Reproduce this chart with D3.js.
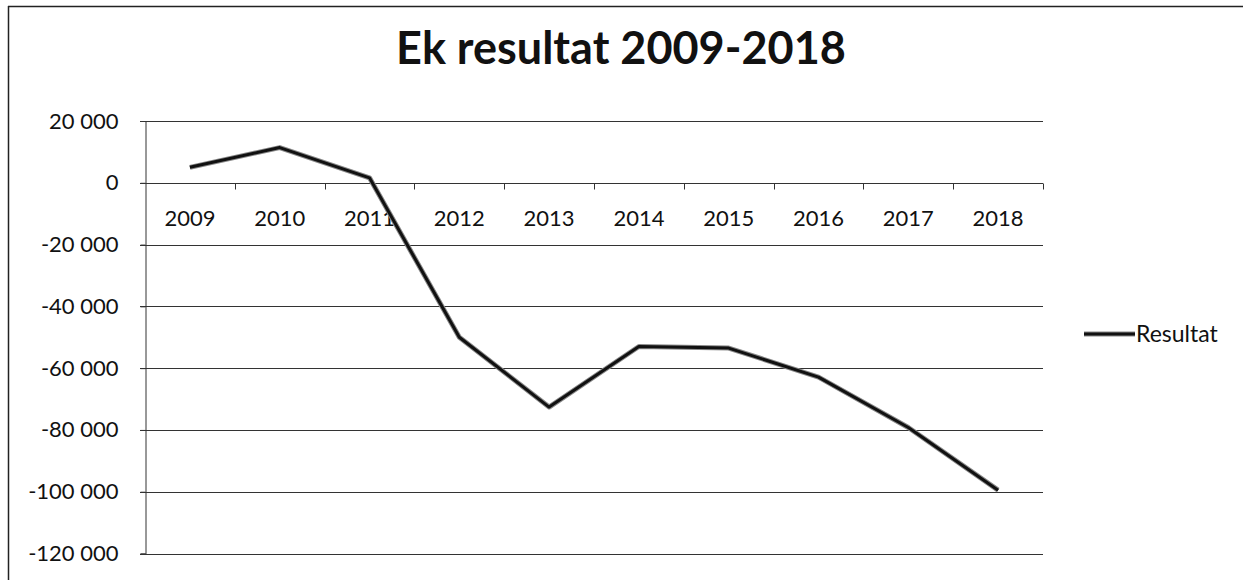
<!DOCTYPE html>
<html><head><meta charset="utf-8">
<script src="https://cdn.jsdelivr.net/npm/d3@7"></script>
<style>body{margin:0;background:#fff}svg{display:block}text{font-family:Lato,"Open Sans",sans-serif;fill:#111}</style>
</head><body><svg id="c" width="1243" height="580"></svg>
<script>
const years = ["2009","2010","2011","2012","2013","2014","2015","2016","2017","2018"];
const resultat = [5000, 11400, 1600, -50000, -72600, -53000, -53500, -62900, -79200, -99500];
const yTicks = [20000, 0, -20000, -40000, -60000, -80000, -100000, -120000];
const seriesName = "Resultat";
const title = "Ek resultat 2009-2018";

const svg = d3.select("#c");
const L = 145, R = 1043, T = 121, B = 553.5;
const x = d3.scaleBand().domain(years).range([L, R]).padding(0);
const y = d3.scaleLinear().domain([-120000, 20000]).range([B, T]);
const loc = d3.formatLocale({decimal: ",", thousands: " ", grouping: [3], currency: ["", ""], minus: "-"});
const fmt = loc.format(",d");

// outer border (top and left only visible)
svg.append("line").attr("x1", 8).attr("x2", 1243).attr("y1", 6.5).attr("y2", 6.5).attr("stroke", "#222").attr("stroke-width", 1.5);
svg.append("line").attr("x1", 8.5).attr("x2", 8.5).attr("y1", 6).attr("y2", 580).attr("stroke", "#222").attr("stroke-width", 1.5);

// title
svg.append("text").attr("x", 621).attr("y", 64).attr("text-anchor", "middle")
  .attr("font-size", 45).attr("font-weight", "bold").text(title);

// gridlines
svg.append("g").selectAll("line").data(yTicks).join("line")
  .attr("x1", L - 5).attr("x2", R).attr("y1", d => Math.round(y(d)) + 0.5).attr("y2", d => Math.round(y(d)) + 0.5)
  .attr("stroke", "#333").attr("stroke-width", 1);

// y axis
const ya = svg.append("g").attr("transform", `translate(${L + 0.5},0)`)
  .call(d3.axisLeft(y).tickValues(yTicks).tickFormat(fmt).tickSize(5).tickPadding(22));
ya.select(".domain").attr("stroke", "#333");
ya.selectAll("line").attr("stroke", "#333");
ya.selectAll("text").attr("font-size", 22).attr("font-family", "Lato, 'Open Sans', sans-serif").attr("fill", "#111");

// x axis at zero
const xa = svg.append("g").attr("transform", `translate(0,${Math.round(y(0)) + 0.5})`);
xa.append("line").attr("x1", L).attr("x2", R).attr("stroke", "#333");
const bounds = years.map(d => x(d) + x.bandwidth());
xa.selectAll("line.tk").data(bounds).join("line").attr("class", "tk")
  .attr("x1", d => Math.round(d) + 0.5).attr("x2", d => Math.round(d) + 0.5).attr("y1", 0).attr("y2", 6).attr("stroke", "#333");
xa.selectAll("text").data(years).join("text")
  .attr("x", d => x(d) + x.bandwidth() / 2).attr("y", 42).attr("text-anchor", "middle")
  .attr("font-size", 22).text(d => d);

// line
const line = d3.line().x((d, i) => x(years[i]) + x.bandwidth() / 2).y(d => y(d));
svg.append("path").datum(resultat).attr("d", line).attr("fill", "none")
  .attr("stroke", "#888").attr("stroke-width", 5).attr("stroke-linejoin", "round");
svg.append("path").datum(resultat).attr("d", line).attr("fill", "none")
  .attr("stroke", "#111").attr("stroke-width", 3).attr("stroke-linejoin", "round");

// legend
const lg = svg.append("g").attr("transform", "translate(1084,334)");
lg.append("line").attr("x1", 0).attr("x2", 51).attr("stroke", "#888").attr("stroke-width", 5);
lg.append("line").attr("x1", 0).attr("x2", 51).attr("stroke", "#111").attr("stroke-width", 3);
lg.append("text").attr("x", 52).attr("y", 8).attr("font-size", 23).text(seriesName);
</script></body></html>
